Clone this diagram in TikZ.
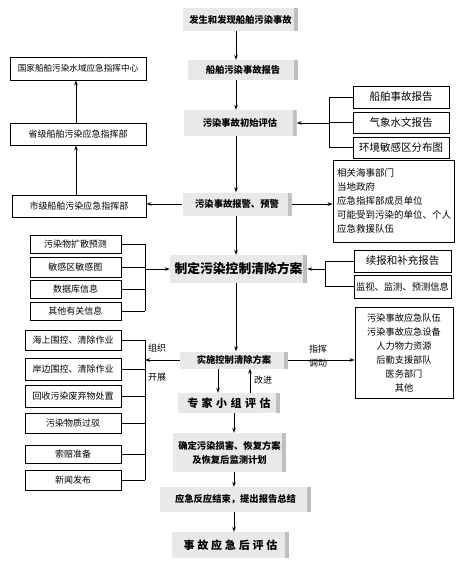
\documentclass[tikz,border=0pt]{standalone}
\usepackage{fontspec}
\setmainfont{Noto Sans CJK SC}
\usetikzlibrary{arrows.meta,calc}
\newcommand\fs[1]{\fontsize{#1}{#1}\selectfont}
\newcommand\spcA{\hspace{3.5pt}}
\newcommand\spcB{\hspace{2.8pt}}
\begin{document}
\begin{tikzpicture}[x=1pt,y=-1pt,
  cbox/.style={fill=gray!17,draw=none,inner sep=1pt,font=\fs{9.3}\bfseries,
    path picture={\fill[gray!50] ([xshift=-4pt]path picture bounding box.north east) rectangle (path picture bounding box.south east);}},
  wbox/.style={draw=black,line width=0.9pt,fill=white,inner sep=1pt,font=\fs{9}},
  arr/.style={line width=0.8pt,-{Stealth[length=5pt,width=3.6pt]}},
  ln/.style={line width=0.7pt},
  lab/.style={font=\fs{9},inner sep=0pt}]
\useasboundingbox (0,0) rectangle (472,571);
% axis coordinates
\coordinate (ax) at (236,0);
\coordinate (axd) at (218,0);
\coordinate (axu) at (250,0);
\coordinate (ax2) at (234,0);
\coordinate (lx) at (76,0);
\coordinate (bxa) at (145,0);
\coordinate (bxb) at (145,0);
\coordinate (rxa) at (329,0);
\coordinate (rxb) at (325,0);
% center column
\node[cbox,minimum width=115,minimum height=23] (c1) at (240.5,19.5) {发生和发现船舶污染事故};
\node[cbox,minimum width=110,minimum height=20] (c2) at (243,70) {船舶污染事故报告};
\node[cbox,minimum width=113,minimum height=26] (c3) at (240,123) {污染事故初始评估};
\node[cbox,minimum width=109,minimum height=23] (c4) at (237,204) {污染事故报警、预警};
\node[cbox,minimum width=137,minimum height=28,font=\fs{12.8}\bfseries] (c5) at (238.5,269) {制定污染控制清除方案};
\node[cbox,minimum width=108,minimum height=17] (c6) at (234,360) {实施控制清除方案};
\node[cbox,minimum width=102,minimum height=20,font=\fs{11}\bfseries] (c7) at (229,403) {专\spcA 家\spcA 小\spcA 组\spcA 评\spcA 估};
\node[cbox,minimum width=113,minimum height=39,align=center,font=\fontsize{9.3}{14}\selectfont\bfseries] (c8) at (229.5,452.5) {确定污染损害、恢复方案\\及恢复后监测计划};
\node[cbox,minimum width=151,minimum height=25] (c9) at (235.5,499.5) {应急反应结束，提出报告总结};
\node[cbox,minimum width=117,minimum height=26,font=\fs{11}\bfseries] (c10) at (230.5,545) {事\spcB 故\spcB 应\spcB 急\spcB 后\spcB 评\spcB 估};
% center arrows
\draw[arr] (c1.south -| ax) -- (c2.north -| ax);
\draw[arr] (c2.south -| ax) -- (c3.north -| ax);
\draw[arr] (c3.south -| ax) -- (c4.north -| ax);
\draw[arr] (c4.south -| ax) -- (c5.north -| ax);
\draw[arr] (c5.south -| ax) -- (c6.north -| ax);
\draw[arr] (c6.south -| axd) -- (c7.north -| axd);
\draw[arr] (c7.north -| axu) -- (c6.south -| axu);
\node[lab] (gj) at (263,380) {改进};
\draw[arr] (c7.south -| ax2) -- (c8.north -| ax2);
\draw[arr] (c8.south -| ax2) -- (c9.north -| ax2);
\draw[arr] (c9.south -| ax2) -- (c10.north -| ax2);
% left command column
\node[wbox,minimum width=136,minimum height=23,font=\fs{8.6}] (L1) at (78,68.5) {国家船舶污染水域应急指挥中心};
\node[wbox,minimum width=136,minimum height=22] (L2) at (78,134) {省级船舶污染应急指挥部};
\node[wbox,minimum width=134,minimum height=22] (L3) at (79,206) {市级船舶污染应急指挥部};
\draw[arr] (L3.north -| lx) -- (L2.south -| lx);
\draw[arr] (L2.north -| lx) -- (L1.south -| lx);
\draw[arr] (c4.west) -- (c4.west -| L3.east);
% left info boxes
\node[wbox,minimum width=91,minimum height=18] (A1) at (75.5,244) {污染物扩散预测};
\node[wbox,minimum width=91,minimum height=20] (A2) at (75.5,267) {敏感区敏感图};
\node[wbox,minimum width=91,minimum height=18] (A3) at (75.5,289) {数据库信息};
\node[wbox,minimum width=91,minimum height=18] (A4) at (75.5,311) {其他有关信息};
\foreach \n in {A1,A2,A3,A4} \draw[ln] (\n.east) -- (\n.east -| bxa);
\draw[ln] (A1.east -| bxa) -- (A4.east -| bxa);
\draw[arr] (c5.west -| bxa) -- (c5.west);
% lower left boxes
\node[wbox,minimum width=96,minimum height=20] (B1) at (73,340) {海上围控、清除作业};
\node[wbox,minimum width=96,minimum height=22] (B2) at (73,369) {岸边围控、清除作业};
\node[wbox,minimum width=96,minimum height=22] (B3) at (73,396) {回收污染废弃物处置};
\node[wbox,minimum width=96,minimum height=20] (B4) at (73,423) {污染物质过驳};
\node[wbox,minimum width=96,minimum height=18] (B5) at (73,454) {索赔准备};
\node[wbox,minimum width=96,minimum height=20] (B6) at (73,480) {新闻发布};
\foreach \n in {B1,B2,B3,B4,B5,B6} \draw[ln] (\n.east) -- (\n.east -| bxb);
\draw[ln] (B1.east -| bxb) -- (B6.east -| bxb);
\draw[arr] (c6.west) -- (c6.west -| bxb);
\node[lab] (zz) at (157,348) {组织};
\node[lab] (kz) at (157,377) {开展};
% right report boxes
\node[wbox,minimum width=96,minimum height=22,font=\fs{10.5}] (R1) at (401,97) {船舶事故报告};
\node[wbox,minimum width=96,minimum height=21,font=\fs{10.5}] (R2) at (401,122.5) {气象水文报告};
\node[wbox,minimum width=96,minimum height=21,font=\fs{10.5}] (R3) at (401,147.5) {环境敏感区分布图};
\foreach \n in {R1,R2,R3} \draw[ln] (\n.west) -- (\n.west -| rxa);
\draw[ln] (R1.west -| rxa) -- (R3.west -| rxa);
\draw[arr] (c3.east -| rxa) -- (c3.east);
% notification list
\node[wbox,minimum width=121,minimum height=82,text width=113,align=left,inner sep=4pt,font=\fontsize{9.5}{14}\selectfont] (R4) at (393.5,201) {相关海事部门\\当地政府\\应急指挥部成员单位\\可能受到污染的单位、个人\\应急救援队伍};
\draw[arr] (c4.east) -- (c4.east -| R4.west);
% supplement boxes
\node[wbox,minimum width=97,minimum height=22,font=\fs{10.5}] (R5) at (402.5,261) {续报和补充报告};
\node[wbox,minimum width=97,minimum height=23,font=\fs{9.3}] (R6) at (402.5,286.5) {监视、监测、预测信息};
\foreach \n in {R5,R6} \draw[ln] (\n.west) -- (\n.west -| rxb);
\draw[ln] (R5.west -| rxb) -- (R6.west -| rxb);
\draw[arr] (c5.east -| rxb) -- (c5.east);
% resources box
\node[wbox,minimum width=98,minimum height=91,align=center,inner sep=4pt,font=\fontsize{9.2}{14}\selectfont] (R7) at (404,352.5) {污染事故应急队伍\\污染事故应急设备\\人力物力资源\\后勤支援部队\\医务部门\\其他};
\draw[arr] (c6.east) -- (c6.east -| R7.west);
\node[lab] (zh) at (318,349) {指挥};
\node[lab] (dd) at (318,363) {调动};
\end{tikzpicture}
\end{document}
